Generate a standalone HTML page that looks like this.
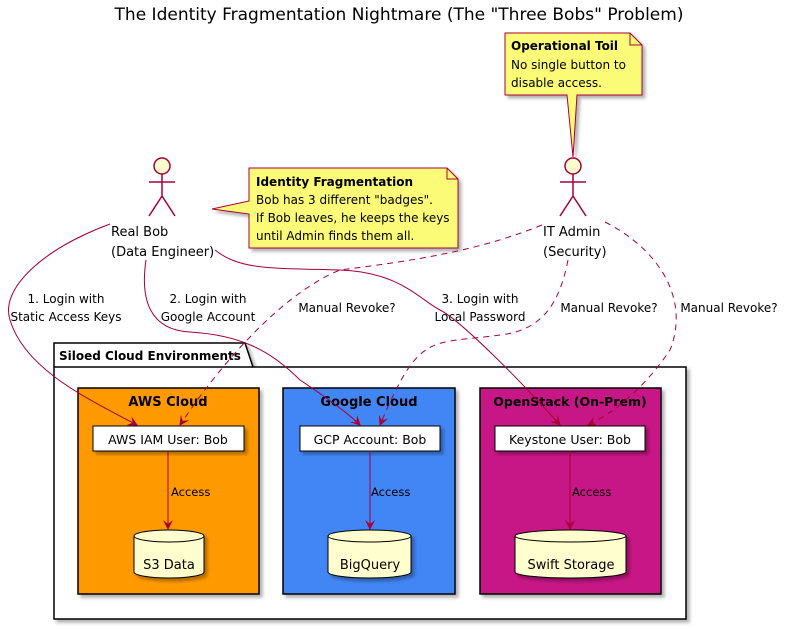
<!DOCTYPE html>
<html><head><meta charset="utf-8"><style>
body{margin:0;background:#fff}
svg{display:block;font-family:"DejaVu Sans","Liberation Sans",sans-serif}
</style></head><body>
<svg width="788" height="629" viewBox="0 0 788 629" xmlns="http://www.w3.org/2000/svg">
<defs>
<filter id="sh" x="-10%" y="-10%" width="130%" height="130%"><feDropShadow dx="3" dy="3" stdDeviation="1.5" flood-color="#000" flood-opacity="0.3"/></filter>
<marker id="ar" viewBox="0 0 10 10" refX="9" refY="5" markerWidth="10" markerHeight="10" orient="auto" markerUnits="userSpaceOnUse"><path d="M0,0 L10,5 L0,10 L4,5 Z" fill="#A80036"/></marker>
</defs>
<text x="399" y="20" font-size="17" text-anchor="middle" fill="#000">The Identity Fragmentation Nightmare (The "Three Bobs" Problem)</text>

<g filter="url(#sh)">
<path d="M54,367 L54,619 L686,619 L686,367 L253,367 L245,343 L54,343 Z" fill="#fff" stroke="#000" stroke-width="1.5"/>
</g>
<line x1="54" y1="367" x2="253" y2="367" stroke="#000" stroke-width="1.5"/>
<text x="59" y="360" font-size="12" font-weight="bold">Siloed Cloud Environments</text>

<rect x="78" y="388" width="181" height="206" fill="#FF9900" stroke="#000" stroke-width="1.5" filter="url(#sh)"/>
<text x="168" y="406" font-size="13" font-weight="bold" text-anchor="middle">AWS Cloud</text>
<rect x="283" y="388" width="172" height="206" fill="#4285F4" stroke="#000" stroke-width="1.5" filter="url(#sh)"/>
<text x="369" y="406" font-size="13" font-weight="bold" text-anchor="middle">Google Cloud</text>
<rect x="480" y="388" width="181" height="206" fill="#C71585" stroke="#000" stroke-width="1.5" filter="url(#sh)"/>
<text x="570" y="406" font-size="12.5" font-weight="bold" text-anchor="middle">OpenStack (On-Prem)</text>

<rect x="93" y="426" width="151" height="25" fill="#fff" stroke="#000" filter="url(#sh)"/>
<text x="168" y="444" font-size="12.5" text-anchor="middle">AWS IAM User: Bob</text>
<rect x="300" y="426" width="140" height="25" fill="#fff" stroke="#000" filter="url(#sh)"/>
<text x="370" y="444" font-size="12.5" text-anchor="middle">GCP Account: Bob</text>
<rect x="495" y="426" width="150" height="25" fill="#fff" stroke="#000" filter="url(#sh)"/>
<text x="570" y="444" font-size="12.5" text-anchor="middle">Keystone User: Bob</text>

<g stroke="#A80036" fill="none">
<line x1="168" y1="451" x2="168" y2="529" marker-end="url(#ar)"/>
<line x1="370" y1="451" x2="370" y2="529" marker-end="url(#ar)"/>
<line x1="570" y1="451" x2="570" y2="529" marker-end="url(#ar)"/>
</g>
<g font-size="11.5">
<text x="171" y="496">Access</text>
<text x="371" y="496">Access</text>
<text x="572" y="496">Access</text>
</g>

<g fill="#FEFECE" stroke="#000" filter="url(#sh)">
<path d="M134,536 A35,6 0 0 1 204,536 L204,572 A35,6 0 0 1 134,572 Z"/>
<path d="M328,536 A41.5,6 0 0 1 411,536 L411,572 A41.5,6 0 0 1 328,572 Z"/>
<path d="M515,536 A55.5,6 0 0 1 626,536 L626,572 A55.5,6 0 0 1 515,572 Z"/>
</g>
<g fill="none" stroke="#000">
<path d="M134,536 A35,6 0 0 0 204,536"/>
<path d="M328,536 A41.5,6 0 0 0 411,536"/>
<path d="M515,536 A55.5,6 0 0 0 626,536"/>
</g>
<g font-size="13" text-anchor="middle">
<text x="169" y="569">S3 Data</text>
<text x="370" y="569">BigQuery</text>
<text x="571" y="569">Swift Storage</text>
</g>

<g filter="url(#sh)">
<path d="M505,33 L630,33 L642,45 L642,95 L577,95 L573,157 L567,95 L505,95 Z" fill="#FBFB77" stroke="#A80036"/>
<path d="M249,168 L447,168 L458,179 L458,248 L249,248 L249,214 L212,209 L249,201 Z" fill="#FBFB77" stroke="#A80036"/>
</g>
<path d="M630,33 L630,45 L642,45" fill="none" stroke="#A80036"/>
<path d="M447,168 L447,179 L458,179" fill="none" stroke="#A80036"/>
<g font-size="12">
<text x="511" y="50" font-weight="bold">Operational Toil</text>
<text x="511" y="69">No single button to</text>
<text x="511" y="87">disable access.</text>
<text x="256" y="186" font-weight="bold">Identity Fragmentation</text>
<text x="256" y="204">Bob has 3 different "badges".</text>
<text x="256" y="222">If Bob leaves, he keeps the keys</text>
<text x="256" y="240">until Admin finds them all.</text>
</g>

<g stroke="#A80036" stroke-width="1.5" fill="none">
<circle cx="162" cy="166" r="8" fill="#FEFECE"/>
<path d="M162,174 L162,196 M149,182 L175,182 M162,196 L149,216 M162,196 L175,216"/>
<circle cx="573" cy="166" r="8" fill="#FEFECE"/>
<path d="M573,174 L573,196 M560,182 L586,182 M573,196 L560,216 M573,196 L586,216"/>
</g>
<g font-size="13" fill="#000">
<text x="111" y="236">Real Bob</text>
<text x="111" y="256">(Data Engineer)</text>
<text x="543" y="236">IT Admin</text>
<text x="543" y="256">(Security)</text>
</g>

<g stroke="#A80036" fill="none">
<path d="M110,224 C40,250 0,290 10,320 C25,370 90,400 137,425" marker-end="url(#ar)"/>
<path d="M146,260 C140,300 150,330 190,332 C240,335 270,350 300,380 C330,400 350,415 360,425" marker-end="url(#ar)"/>
<path d="M215,250 C240,270 270,268 340,270 C400,272 420,300 440,310 C460,320 520,380 560,425" marker-end="url(#ar)"/>
</g>
<g stroke="#A80036" fill="none" stroke-dasharray="6,5">
<path d="M542,225 C480,250 420,260 340,270 C290,290 230,350 180,425" marker-end="url(#ar)"/>
<path d="M568,260 C560,300 545,330 500,335 C430,345 420,330 380,425" marker-end="url(#ar)"/>
<path d="M605,222 C660,250 690,300 670,350 C650,380 620,410 588,425" marker-end="url(#ar)"/>
</g>
<g font-size="12" text-anchor="middle">
<text x="66" y="303">1. Login with</text>
<text x="66" y="321">Static Access Keys</text>
<text x="208" y="303">2. Login with</text>
<text x="208" y="321">Google Account</text>
<text x="480" y="303">3. Login with</text>
<text x="480" y="321">Local Password</text>
<text x="347" y="312">Manual Revoke?</text>
<text x="609" y="312">Manual Revoke?</text>
<text x="729" y="312">Manual Revoke?</text>
</g>
</svg>
</body></html>
